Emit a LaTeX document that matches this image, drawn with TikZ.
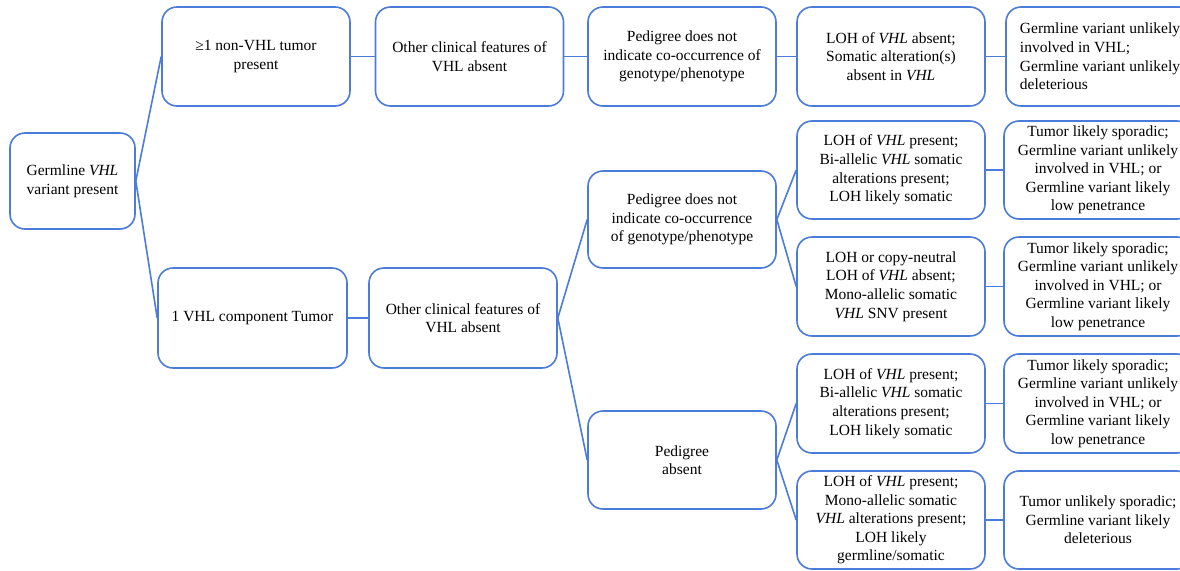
\documentclass[tikz,border=0pt]{standalone}
\usepackage{fontspec}
\setmainfont{Liberation Serif}
\definecolor{vblue}{RGB}{76,124,218}
\begin{document}
\begin{tikzpicture}[x=1pt,y=-1pt,
  box/.style={draw=vblue, line width=1.6pt, rounded corners=15pt, align=center,
    inner sep=0pt, minimum width=188pt, minimum height=98pt,
    font=\fontsize{15.5}{18.6}\selectfont},
  conn/.style={draw=vblue, line width=1.6pt}]
\useasboundingbox (0,0) rectangle (1180,570);
\clip (0,0) rectangle (1180,570);
\fill[white] (0,0) rectangle (1180,570);
% column 1
\node[box, minimum width=125pt, minimum height=96pt] (root) at (72.5,181) {Germline \textit{VHL}\\variant present};
% top row
\node[box, minimum height=99pt] (t1) at (256,56.5) {≥1 non-VHL tumor\\present};
\node[box, minimum height=99pt] (t2) at (469.5,56.5) {Other clinical features of\\VHL absent};
\node[box, minimum height=99pt] (t3) at (682,56.5) {Pedigree does not\\indicate co-occurrence of\\genotype/phenotype};
\node[box, minimum height=99pt] (t4) at (891,56.5) {LOH of \textit{VHL} absent;\\Somatic alteration(s)\\absent in \textit{VHL}};
\node[box, minimum height=99pt, align=left] (t5) at (1100,56.5) {Germline variant unlikely\\involved in VHL;\\Germline variant unlikely\\deleterious};
% lower branch
\node[box, minimum width=189pt, minimum height=100pt] (b1) at (252.5,318) {1 VHL component Tumor};
\node[box, minimum height=100pt] (b2) at (463,318) {Other clinical features of\\VHL absent};
\node[box, minimum height=97pt] (p1) at (682,219.5) {Pedigree does not\\indicate co-occurrence\\of genotype/phenotype};
\node[box] (p2) at (682,460) {Pedigree\\absent};
\node[box] (la) at (891,170) {LOH of \textit{VHL} present;\\Bi-allelic \textit{VHL} somatic\\alterations present;\\LOH likely somatic};
\node[box, minimum height=99pt] (lb) at (891,286.5) {LOH or copy-neutral\\LOH of \textit{VHL} absent;\\Mono-allelic somatic\\\textit{VHL} SNV present};
\node[box, minimum height=99pt] (lc) at (891,403.5) {LOH of \textit{VHL} present;\\Bi-allelic \textit{VHL} somatic\\alterations present;\\LOH likely somatic};
\node[box] (ld) at (891,520) {LOH of \textit{VHL} present;\\Mono-allelic somatic\\\textit{VHL} alterations present;\\LOH likely\\germline/somatic};
\node[box] (oa) at (1098,170) {Tumor likely sporadic;\\Germline variant unlikely\\involved in VHL; or\\Germline variant likely\\low penetrance};
\node[box, minimum height=99pt] (ob) at (1098,286.5) {Tumor likely sporadic;\\Germline variant unlikely\\involved in VHL; or\\Germline variant likely\\low penetrance};
\node[box, minimum height=99pt] (oc) at (1098,403.5) {Tumor likely sporadic;\\Germline variant unlikely\\involved in VHL; or\\Germline variant likely\\low penetrance};
\node[box] (od) at (1098,520) {Tumor unlikely sporadic;\\Germline variant likely\\deleterious};
% connectors
\draw[conn] (root.east) -- (t1.west);
\draw[conn] (root.east) -- (b1.west);
\draw[conn] (t1.east) -- (t2.west);
\draw[conn] (t2.east) -- (t3.west);
\draw[conn] (t3.east) -- (t4.west);
\draw[conn] (t4.east) -- (t5.west);
\draw[conn] (b1.east) -- (b2.west);
\draw[conn] (b2.east) -- (p1.west);
\draw[conn] (b2.east) -- (p2.west);
\draw[conn] (p1.east) -- (la.west);
\draw[conn] (p1.east) -- (lb.west);
\draw[conn] (p2.east) -- (lc.west);
\draw[conn] (p2.east) -- (ld.west);
\draw[conn] (la.east) -- (oa.west);
\draw[conn] (lb.east) -- (ob.west);
\draw[conn] (lc.east) -- (oc.west);
\draw[conn] (ld.east) -- (od.west);
\end{tikzpicture}
\end{document}
